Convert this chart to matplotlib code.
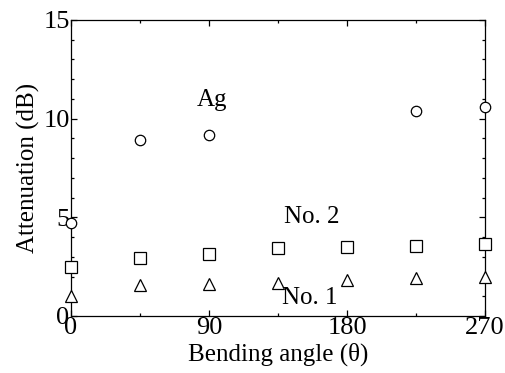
import matplotlib.pyplot as plt
from matplotlib.ticker import MultipleLocator

# bending angle (deg)
angle = [0, 45, 90, 135, 180, 225, 270]
angle_ag = [0, 45, 90, 225, 270]

# attenuation (dB)
att_ag = [4.7, 8.92, 9.17, 10.39, 10.61]
att_no2 = [2.47, 2.92, 3.14, 3.43, 3.48, 3.56, 3.63]
att_no1 = [1.03, 1.57, 1.60, 1.69, 1.82, 1.91, 1.96]

plt.rcParams['font.family'] = 'Liberation Serif'
plt.rcParams['mathtext.fontset'] = 'custom'

fig = plt.figure(figsize=(5.06, 3.73), dpi=100)
ax = fig.add_axes([71 / 506, 57 / 373, 414 / 506, 296 / 373])

mk = dict(linestyle='none', markerfacecolor='white', markeredgecolor='black',
          markeredgewidth=0.9, clip_on=False, zorder=3)
ax.plot(angle_ag, att_ag, marker='o', markersize=7.5, **mk)
ax.plot(angle, att_no2, marker='s', markersize=8, **mk)
ax.plot(angle, att_no1, marker='^', markersize=8.5, **mk)

ax.text(92, 10.95, 'Ag', fontsize=18, ha='center', va='center')
ax.text(157, 5.03, 'No. 2', fontsize=18, ha='center', va='center')
ax.text(156, 0.9, 'No. 1', fontsize=18, ha='center', va='center')

ax.set_xlim(0, 270)
ax.set_ylim(0, 15)
ax.xaxis.set_major_locator(MultipleLocator(90))
ax.xaxis.set_minor_locator(MultipleLocator(45))
ax.yaxis.set_major_locator(MultipleLocator(5))
ax.yaxis.set_minor_locator(MultipleLocator(1))
ax.tick_params(which='both', direction='in', top=True, right=True,
               labelsize=19, width=0.9, pad=1)
ax.tick_params(which='major', length=4.5)
ax.tick_params(which='minor', length=2.5)
for s in ax.spines.values():
    s.set_linewidth(0.9)

ax.set_xlabel('Bending angle (\u03b8)', fontsize=18, labelpad=2)
ax.set_ylabel('Attenuation (dB)', fontsize=18, labelpad=2)

fig.savefig('out.png', dpi=100)
